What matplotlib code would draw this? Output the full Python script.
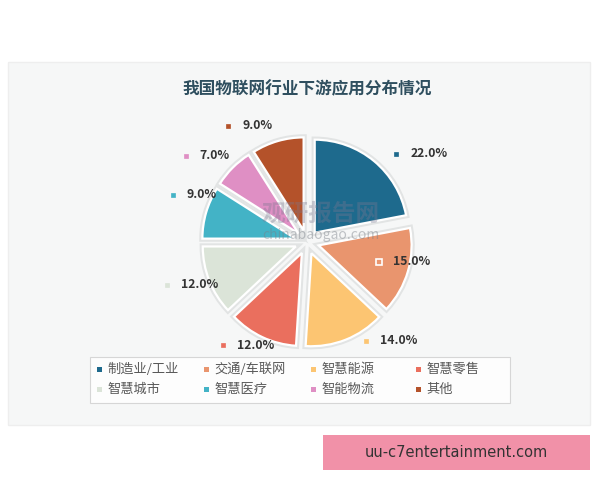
import numpy as np
import matplotlib
matplotlib.use("Agg")
import matplotlib.pyplot as plt
from matplotlib.patches import Rectangle

plt.rcParams['font.family'] = ['Noto Sans CJK SC', 'DejaVu Sans']

title = "我国物联网行业下游应用分布情况"
categories = ["制造业/工业", "交通/车联网", "智慧能源", "智慧零售",
              "智慧城市", "智慧医疗", "智能物流", "其他"]
values = [22.0, 15.0, 14.0, 12.0, 12.0, 9.0, 7.0, 9.0]
colors = ["#1e6a8d", "#e9956e", "#fcc572", "#ea6f5e",
          "#dbe4d8", "#43b3c6", "#df8fc4", "#b4522a"]

# label placement tweaks (layout only): angular shift (deg) and radius factor
label_dtheta = [-5.7, 0.7, 9.4, -13.8, -4.6, -3.2, 9.5, 17.8]
label_r = [1.35, 0.80, 1.24, 1.43, 1.57, 1.53, 1.60, 1.51]

W, H = 600, 480
fig = plt.figure(figsize=(6, 4.8), dpi=100)
fig.patch.set_facecolor("white")

def px(x, y, w=0, h=0):
    return (x / W, 1 - (y + h) / H, w / W, h / H)

# panel background
x0, y0, w0, h0 = px(8, 62, 582, 363)
fig.add_artist(Rectangle((x0, y0), w0, h0, transform=fig.transFigure,
                         facecolor="#f6f7f7", edgecolor="#eeeeee", lw=1, zorder=0))

# title
fig.text(307 / W, 1 - 89 / H, title, ha="center", va="center", fontsize=12,
         fontweight="bold", color="#2f4f5f")

# pie axes
R = 93
cx, cy = 307, 242
span = 3.4 * R
ax = fig.add_axes([(cx - span / 2) / W, (H - cy - span / 2) / H, span / W, span / H])

explode = [0.13] * len(values)
ax.pie(values, colors=colors, startangle=90, counterclock=False, explode=explode,
       radius=1.0, wedgeprops=dict(edgecolor="#e2e4e4", linewidth=4.5))
wedges, _ = ax.pie(values, colors=colors, startangle=90, counterclock=False,
                   explode=explode, radius=1.0,
                   wedgeprops=dict(edgecolor="white", linewidth=1.6))
ax.set_xlim(-1.7, 1.7)
ax.set_ylim(-1.7, 1.7)
ax.set_aspect("equal")
ax.axis("off")

# watermark
ax.text(0.15, 0.3, "观研报告网", ha="center", va="center", fontsize=17,
        fontweight="bold", color="#7a7890", alpha=0.35, zorder=5)
ax.text(0.15, 0.08, "chinabaogao.com", ha="center", va="center", fontsize=10,
        color="#7a8088", alpha=0.45, zorder=5)

# labels
for i, w in enumerate(wedges):
    mid = (w.theta1 + w.theta2) / 2 + label_dtheta[i]
    r = label_r[i]
    mx, my = r * np.cos(np.radians(mid)), r * np.sin(np.radians(mid))
    inside = r < 1.0
    ax.plot(mx, my, marker="s", ms=5 if inside else 3.5, color=colors[i],
            mec="white" if inside else colors[i], mew=1.2 if inside else 0.5, zorder=6)
    ax.text(mx + 0.15, my, f"{values[i]:.1f}%", ha="left", va="center",
            fontsize=8.8, fontweight="bold", color="#333333", zorder=6)

# legend box
lx, ly, lw_, lh = px(90, 357, 420, 46)
fig.add_artist(Rectangle((lx, ly), lw_, lh, transform=fig.transFigure,
                         facecolor="#fdfdfd", edgecolor="#d6d6d6", lw=0.8, zorder=1))
col_x = [99, 206, 313, 418]
row_y = [369, 389]
for i, (c, col) in enumerate(zip(categories, colors)):
    r_, k = divmod(i, 4)
    x, y = col_x[k], row_y[r_]
    fig.add_artist(Rectangle(((x - 2.5) / W, 1 - (y + 2.5) / H), 5 / W, 5 / H,
                             transform=fig.transFigure, facecolor=col,
                             edgecolor="none", zorder=2))
    fig.text((x + 8) / W, 1 - y / H, c, ha="left", va="center", fontsize=9.5,
             color="#595959", zorder=2)

# pink footer box
bx, by, bw, bh = px(323, 435, 267, 35)
fig.add_artist(Rectangle((bx, by), bw, bh, transform=fig.transFigure,
                         facecolor="#f191a8", edgecolor="none", zorder=1))
fig.text((323 + 267 / 2) / W, 1 - 452.5 / H, "uu-c7entertainment.com",
         ha="center", va="center", fontsize=10.5, color="#333333",
         family=["DejaVu Sans"], zorder=2)

fig.savefig("out.png", dpi=100, facecolor="white")
